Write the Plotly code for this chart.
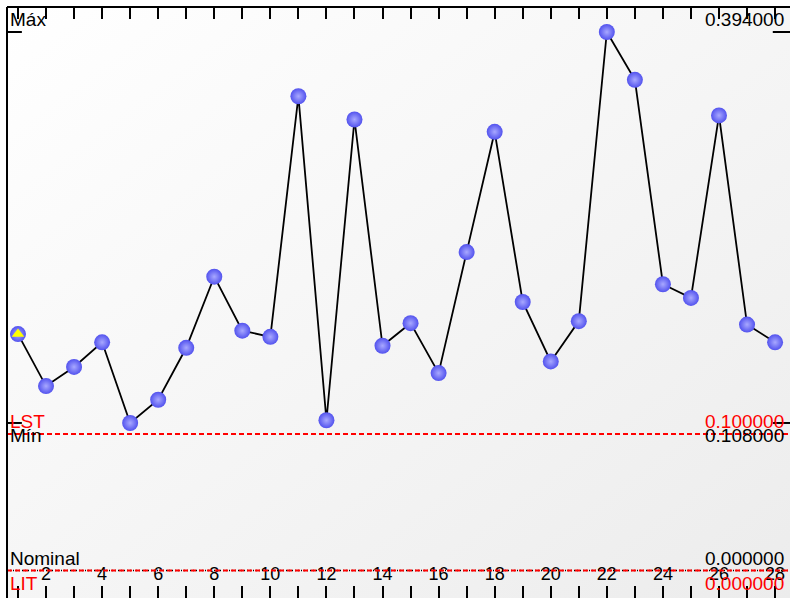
import base64

import plotly.graph_objects as go

# sample number and measured value
samples = list(range(1, 29))
values = [0.173, 0.135, 0.149, 0.167, 0.108, 0.125, 0.163, 0.215, 0.1755, 0.171,
          0.347, 0.110, 0.330, 0.1645, 0.181, 0.1445, 0.233, 0.321, 0.1965, 0.153,
          0.1825, 0.394, 0.359, 0.2095, 0.1995, 0.333, 0.180, 0.167]
tick_text = [str(s) if s % 2 == 0 else "" for s in samples]

# limits
v_max = 0.394
v_min = 0.108
lst = 0.100
lit = 0.000
nominal = 0.000

_FONT = "Arial, Liberation Sans, sans-serif"
_RED = "#ff0000"

_svg = ('<svg xmlns="http://www.w3.org/2000/svg" width="100" height="100" preserveAspectRatio="none">'
        '<defs><linearGradient id="g" x1="0" y1="0" x2="1" y2="1">'
        '<stop offset="0" stop-color="#ffffff"/><stop offset="1" stop-color="#ececec"/>'
        '</linearGradient></defs><rect width="100" height="100" fill="url(#g)"/></svg>')
bg_src = "data:image/svg+xml;base64," + base64.b64encode(_svg.encode()).decode()

fig = go.Figure()
fig.add_scatter(x=samples, y=values, mode="lines+markers",
                line=dict(color="black", width=1.8),
                marker=dict(size=16, color="#5252ee",
                            gradient=dict(type="radial", color="#a8a8ff"),
                            line=dict(width=0)),
                hoverinfo="x+y", showlegend=False)
# first sample flagged with a yellow triangle
fig.add_scatter(x=samples[:1], y=values[:1], mode="markers",
                marker=dict(symbol="triangle-up", size=11, color="#ffff00",
                            line=dict(width=0)),
                hoverinfo="skip", showlegend=False)

shapes = [
    # nominal (dotted black) under LIT (dashed red)
    dict(type="line", xref="paper", x0=0, x1=1, yref="y", y0=nominal, y1=nominal,
         line=dict(color="black", width=1.5, dash="1px,2px")),
    dict(type="line", xref="paper", x0=0, x1=1, yref="y", y0=lit, y1=lit,
         line=dict(color=_RED, width=2, dash="5px,3px")),
    dict(type="line", xref="paper", x0=0, x1=1, yref="y", y0=lst, y1=lst,
         line=dict(color=_RED, width=2, dash="5px,3px")),
    # frame (left and top only, the rest is off the page)
    dict(type="line", xref="paper", x0=0, x1=0, yref="paper", y0=0, y1=1,
         line=dict(color="black", width=2)),
    dict(type="line", xref="paper", x0=0, x1=1, yref="paper", y0=1, y1=1,
         line=dict(color="black", width=2)),
]
for v in (v_max, v_min):
    shapes.append(dict(type="line", xref="paper", x0=0, x1=0.019, yref="y", y0=v, y1=v,
                       line=dict(color="black", width=2)))
    shapes.append(dict(type="line", xref="paper", x0=0.978, x1=1, yref="y", y0=v, y1=v,
                       line=dict(color="black", width=2)))


def label(text, y, color, left, above):
    return dict(text=text, xref="paper", x=0 if left else 1, yref="y", y=y,
                xanchor="left" if left else "right",
                yanchor="bottom" if above else "top",
                xshift=1 if left else -4, showarrow=False,
                font=dict(family=_FONT, size=19, color=color))


annotations = [
    label("Máx", v_max, "black", True, True),
    label(f"{v_max:.6f}", v_max, "black", False, True),
    label("LST", lst, _RED, True, True),
    label(f"{lst:.6f}", lst, _RED, False, True),
    label("Mín", v_min, "black", True, False),
    label(f"{v_min:.6f}", v_min, "black", False, False),
    label("Nominal", nominal, "black", True, True),
    label(f"{nominal:.6f}", nominal, "black", False, True),
    label("LIT", lit, _RED, True, False),
    label(f"{lit:.6f}", lit, _RED, False, False),
]

fig.update_layout(
    width=790, height=598,
    margin=dict(l=7, r=0, t=7, b=0),
    paper_bgcolor="white", plot_bgcolor="rgba(0,0,0,0)",
    images=[dict(source=bg_src, xref="paper", yref="paper", x=0, y=1,
                 sizex=1, sizey=1, sizing="stretch", layer="below")],
    shapes=shapes, annotations=annotations,
    xaxis=dict(range=[0.608, 28.532], tickvals=samples, ticktext=tick_text,
               ticks="inside", ticklen=12, tickwidth=2, tickcolor="black",
               mirror="ticks", ticklabelposition="inside", ticklabelstandoff=3,
               tickfont=dict(family=_FONT, size=18, color="black"),
               showgrid=False, zeroline=False, showline=False),
    yaxis=dict(range=[-0.02004, 0.4123], showticklabels=False, ticks="",
               showgrid=False, zeroline=False, showline=False),
    showlegend=False,
)

fig.write_html("out.html", config={"displayModeBar": False},
               post_script="document.body.style.margin='0';document.body.style.overflow='hidden';")
